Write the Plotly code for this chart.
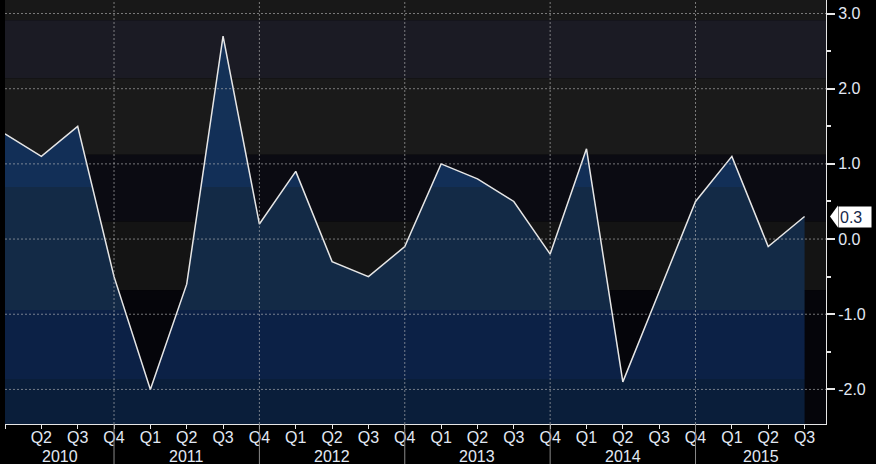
import plotly.graph_objects as go

# quarterly values, Q1 2010 .. Q3 2015
quarters = ['Q1', 'Q2', 'Q3', 'Q4'] * 5 + ['Q1', 'Q2', 'Q3']
years = ['2010', '2011', '2012', '2013', '2014', '2015']
values = [1.4, 1.1, 1.5, -0.5, -2.0, -0.6, 2.7, 0.2, 0.9, -0.3, -0.5, -0.1,
          1.0, 0.8, 0.5, -0.2, 1.2, -1.9, -0.7, 0.5, 1.1, -0.1, 0.3]
ytick_vals = [3, 2, 1, 0, -1, -2]
ytick_text = ['3.0', '2.0', '1.0', '0.0', '-1.0', '-2.0']
last_label = '0.3'

xs = list(range(len(values)))
ymin, ymax = -2.46, 3.18
xmax = 22.59
txt = '#e2e9f4'
fnt = 'Liberation Sans, Arial, sans-serif'

# background bands (value ranges, colour)
bands = [(2.91, ymax, '#181818'), (2.14, 2.91, '#1b1b24'), (1.12, 2.14, '#1a1a1a'),
         (0.23, 1.12, '#0b0b12'), (-0.68, 0.23, '#141414'), (ymin, -0.68, '#05050a')]

shapes = []
for lo, hi, c in bands:
    shapes.append(dict(type='rect', xref='paper', yref='y', x0=0, x1=1, y0=lo, y1=hi,
                       fillcolor=c, line_width=0, layer='below'))

grid = dict(color='rgba(190,190,190,0.6)', width=1, dash='2px,2px')
for v in ytick_vals:
    shapes.append(dict(type='line', xref='paper', yref='y', x0=0, x1=1, y0=v, y1=v,
                       line=grid, layer='above'))

# year boundaries sit on the Q4 ticks
q4 = [i for i, q in enumerate(quarters) if q == 'Q4']
for i in q4:
    shapes.append(dict(type='line', xref='x', yref='paper', x0=i, x1=i, y0=0, y1=1,
                       line=grid, layer='above'))
    shapes.append(dict(type='line', xref='x', yref='paper', x0=i, x1=i, y0=0, y1=-0.1,
                       line=dict(color='#8a8a8a', width=1), layer='above'))

# year labels centred between boundaries
bounds = [0] + q4 + [xmax]
annotations = []
for k, yr in enumerate(years):
    annotations.append(dict(x=(bounds[k] + bounds[k + 1]) / 2, xref='x', y=-0.077, yref='paper',
                            text=yr, showarrow=False, yanchor='middle',
                            font=dict(color=txt, size=16, family=fnt)))

# last value tag
yl = values[-1]
span = ymax - ymin
yp = (yl - ymin) / span
h = 10 / 424
shapes.append(dict(type='path', xref='paper', yref='paper',
                   path='M 1.0049 %f L 1.0146 %f L 1.0146 %f Z' % (yp, yp + h * 1.1, yp - h * 1.1),
                   fillcolor='white', line_width=0, layer='above'))
annotations.append(dict(x=1.0146, xref='paper', y=yl, yref='y', text=last_label, showarrow=False,
                        xanchor='left', yanchor='middle', bgcolor='white', width=30, height=18,
                        align='left', borderpad=1, font=dict(color='#16284a', size=16, family=fnt)))

fig = go.Figure()
fig.add_trace(go.Scatter(x=xs, y=[ymin] * len(xs), mode='lines', line=dict(width=0),
                         hoverinfo='skip', showlegend=False))
fig.add_trace(go.Scatter(
    x=xs, y=values, mode='lines', fill='tonexty',
    line=dict(color='#e6e6e6', width=1.5),
    fillgradient=dict(type='vertical', start=ymin, stop=ymax, colorscale=[
        [0, '#0a1e3a'], [0.105, '#0a1e3a'], [0.105, '#0c2146'], [0.27, '#0c2146'],
        [0.27, '#132a46'], [0.558, '#132a46'], [0.558, '#122f57'], [0.693, '#122f57'],
        [0.693, '#143157'], [1, '#143157']]),
    showlegend=False))

fig.update_layout(
    width=876, height=464,
    margin=dict(l=5, r=50, t=0, b=40),
    paper_bgcolor='black', plot_bgcolor='black',
    shapes=shapes, annotations=annotations,
    font=dict(family=fnt, color=txt, size=16),
    xaxis=dict(range=[0, xmax], tickvals=xs, ticktext=[''] + quarters[1:], automargin=False,
               showgrid=False, zeroline=False, showline=True, linecolor='#e6e6e6', linewidth=1,
               ticks='outside', ticklen=4, tickcolor='#e6e6e6', ticklabelstandoff=-5,
               tickfont=dict(color=txt, size=16, family=fnt)),
    yaxis=dict(range=[ymin, ymax], side='right', tickvals=ytick_vals, ticktext=ytick_text,
               automargin=False,
               showgrid=False, zeroline=False, showline=True, linecolor='#e6e6e6', linewidth=1,
               ticks='outside', ticklen=8, tickwidth=2, tickcolor='#e6e6e6',
               minor=dict(dtick=0.5, ticks='outside', ticklen=4, tickcolor='#e6e6e6', showgrid=False),
               tickfont=dict(color=txt, size=16, family=fnt)),
)

# page body has a default margin; drop it so the chart fills the window
fig.write_html("out.html", config={'displayModeBar': False},
               post_script="document.body.style.margin='0';document.body.style.background='black';")
